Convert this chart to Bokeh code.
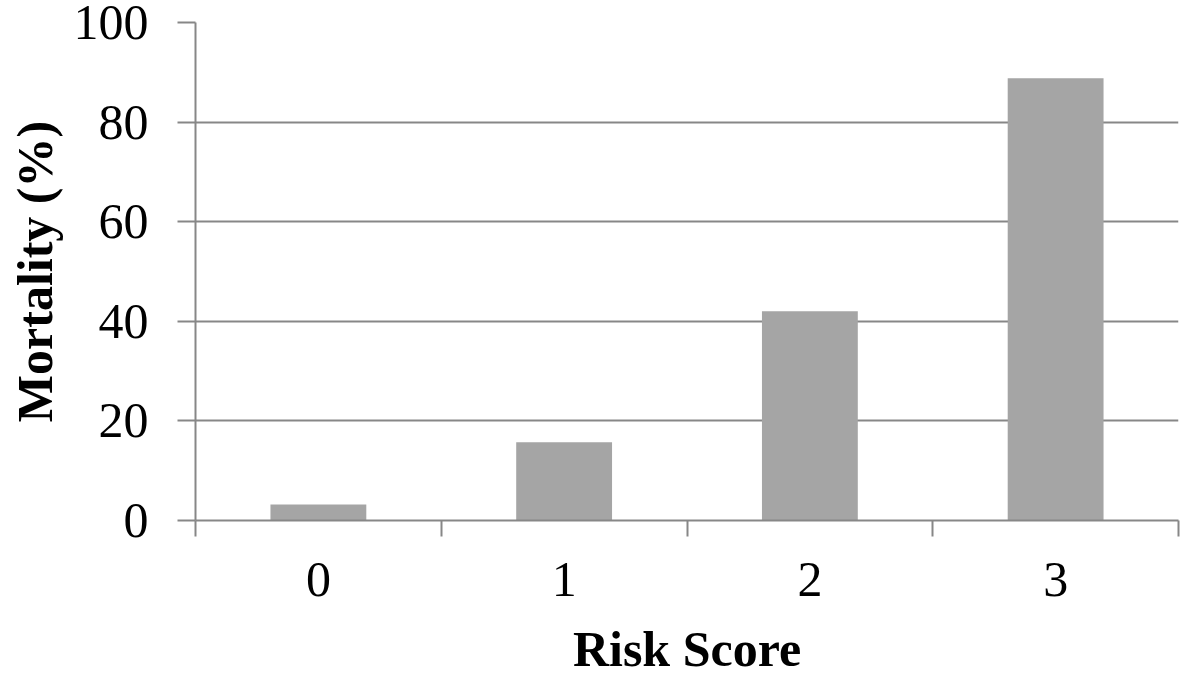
from bokeh.plotting import figure
from bokeh.models import Range1d, FixedTicker, ColumnDataSource
from bokeh.embed import file_html
from bokeh.resources import INLINE

categories = ["0", "1", "2", "3"]
mortality = [3.2, 15.7, 42.0, 88.8]
y_ticks = [0, 20, 40, 60, 80, 100]

centers = [i + 0.5 for i in range(len(categories))]
bounds = list(range(len(categories) + 1))

FONT = "Liberation Serif"
GRID = "#878787"

p = figure(width=1180, height=679, output_backend="svg", toolbar_location=None,
           x_range=Range1d(0, len(categories)), y_range=Range1d(0, 100),
           min_border_left=195, min_border_right=2, min_border_top=22,
           min_border_bottom=159)
p.outline_line_color = None
p.background_fill_color = "white"

src = ColumnDataSource(dict(x=centers, top=mortality, cat=categories))
p.vbar(x="x", top="top", bottom=0, width=0.39, source=src,
       fill_color="#a5a5a5", line_color=None)

p.xgrid.visible = False
p.ygrid.ticker = FixedTicker(ticks=y_ticks)
p.ygrid.grid_line_color = GRID
p.ygrid.grid_line_width = 2

# y axis
ya = p.yaxis[0]
ya.ticker = FixedTicker(ticks=y_ticks)
ya.axis_line_color = GRID
ya.axis_line_width = 2
ya.major_tick_line_color = GRID
ya.major_tick_line_width = 2
ya.major_tick_out = 18
ya.major_tick_in = 0
ya.minor_tick_line_color = None
ya.major_label_text_font = FONT
ya.major_label_text_font_size = "50px"
ya.major_label_text_color = "black"
ya.major_label_standoff = 29
ya.axis_label = "Mortality (%)"
ya.axis_label_text_font = FONT
ya.axis_label_text_font_size = "50px"
ya.axis_label_text_font_style = "bold"
ya.axis_label_text_color = "black"
ya.axis_label_standoff = 8

# x axis
xa = p.xaxis[0]
xa.ticker = FixedTicker(ticks=centers, minor_ticks=bounds)
xa.major_label_overrides = {c: cat for c, cat in zip(centers, categories)}
xa.axis_line_color = GRID
xa.axis_line_width = 2
xa.major_tick_line_color = None
xa.major_tick_out = 0
xa.major_tick_in = 0
xa.minor_tick_line_color = GRID
xa.minor_tick_line_width = 2
xa.minor_tick_out = 16
xa.minor_tick_in = 0
xa.major_label_text_font = FONT
xa.major_label_text_font_size = "50px"
xa.major_label_text_color = "black"
xa.major_label_standoff = 26
xa.axis_label = "Risk Score"
xa.axis_label_text_font = FONT
xa.axis_label_text_font_size = "50px"
xa.axis_label_text_font_style = "bold"
xa.axis_label_text_color = "black"
xa.axis_label_standoff = 22

open("out.html", "w").write(file_html(p, INLINE))
